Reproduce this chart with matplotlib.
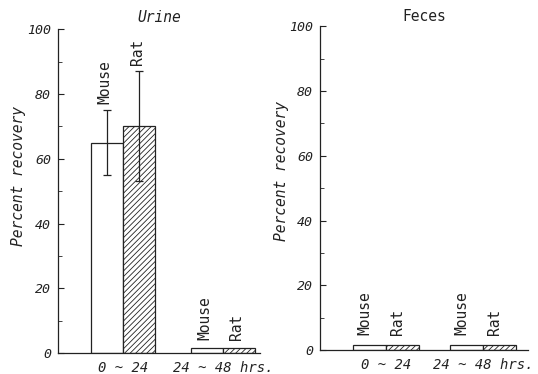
import matplotlib
matplotlib.use("Agg")
import matplotlib.pyplot as plt
import numpy as np

plt.rcParams['font.family'] = ['DejaVu Sans Mono']
plt.rcParams['hatch.linewidth'] = 0.6

periods = ["0 ~ 24", "24 ~ 48 hrs."]
species = ["Mouse", "Rat"]
urine_mouse = [65, 1.5]
urine_rat = [70, 1.5]
urine_mouse_err = [10, 0]
urine_rat_err = [17, 0]
feces_mouse = [1.5, 1.5]
feces_rat = [1.5, 1.5]
yticks = [0, 20, 40, 60, 80, 100]

fig = plt.figure(figsize=(5.38, 3.74), dpi=100)
INK = '#222222'

def panel(rect, xlim, width, mouse, rat, merr, rerr, title, title_style, tpad):
    ax = fig.add_axes(rect)
    x = np.arange(len(periods))
    xm = x - width / 2
    xr = x + width / 2
    ax.bar(xm, mouse, width, color='white', edgecolor=INK, linewidth=0.9)
    ax.bar(xr, rat, width, color='white', edgecolor=INK, linewidth=0.9, hatch='//////')
    for i in range(len(periods)):
        if merr[i] > 0:
            ax.errorbar(xm[i], mouse[i], yerr=merr[i], color=INK, capsize=3, elinewidth=0.9, capthick=0.9)
        if rerr[i] > 0:
            ax.errorbar(xr[i], rat[i], yerr=rerr[i], color=INK, capsize=3, elinewidth=0.9, capthick=0.9)
    ax.set_xlim(*xlim)
    ax.set_ylim(0, 100)
    ax.spines['top'].set_visible(False)
    ax.spines['right'].set_visible(False)
    ax.spines['left'].set_linewidth(0.9)
    ax.spines['bottom'].set_linewidth(0.9)
    ax.spines['left'].set_color(INK)
    ax.spines['bottom'].set_color(INK)
    ax.set_yticks(yticks)
    ax.set_yticks([10, 30, 50, 70, 90], minor=True)
    ax.tick_params(axis='y', which='major', direction='in', length=4, width=0.8, labelsize=9.5, pad=5, colors=INK)
    ax.tick_params(axis='y', which='minor', direction='in', length=3, width=0.6, colors=INK)
    ax.set_xticks(x)
    ax.set_xticklabels(periods, fontsize=10, style='italic', color=INK)
    ax.tick_params(axis='x', length=0, pad=6)
    for lab in ax.get_yticklabels():
        lab.set_style('italic')
    ax.set_ylabel("Percent recovery", fontsize=10.5, style='italic', color=INK)
    ax.set_title(title, fontsize=10.5, style=title_style, pad=tpad, color=INK)
    return ax, xm, xr

# Left panel (Urine)
axL, xmL, xrL = panel([0.108, 0.056, 0.375, 0.866], (-0.65, 1.37), 0.32,
                      urine_mouse, urine_rat, urine_mouse_err, urine_rat_err,
                      "Urine", 'italic', 5)
axL.yaxis.set_label_coords(-0.16, 0.546)
kw = dict(rotation=90, ha='center', va='bottom', fontsize=10.5, color=INK)
axL.text(xmL[0] - 0.02, 77, species[0], **kw)
axL.text(xrL[0] - 0.02, 89, species[1], **kw)
axL.text(xmL[1] - 0.02, 4, species[0], **kw)
axL.text(xrL[1] - 0.02, 4, species[1], **kw)

# Right panel (Feces)
axR, xmR, xrR = panel([0.595, 0.064, 0.386, 0.866], (-0.68, 1.46), 0.34,
                      feces_mouse, feces_rat, [0, 0], [0, 0],
                      "Feces", 'normal', 4)
axR.yaxis.set_label_coords(-0.15, 0.552)
for i in range(2):
    axR.text(xmR[i] - 0.05, 4.5, species[0], **kw)
    axR.text(xrR[i] - 0.05, 4.5, species[1], **kw)

fig.savefig("out.png", dpi=100)
